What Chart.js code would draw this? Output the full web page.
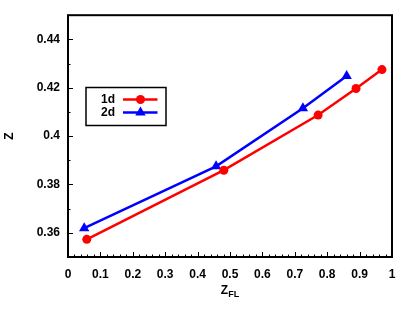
<!DOCTYPE html>
<html><head><meta charset="utf-8">
<script src="https://cdn.jsdelivr.net/npm/chart.js@4"></script>
<style>html,body{margin:0;padding:0;background:#fff}#wrap{width:415px;height:310px}</style>
</head><body><div id="wrap"><canvas id="c" width="415" height="310"></canvas></div>
<script>
const seriesNames = ['1d', '2d'];
const zfl1d = [0.058, 0.481, 0.772, 0.889, 0.969];
const z1d   = [0.3573, 0.3859, 0.4087, 0.4197, 0.4275];
const zfl2d = [0.050, 0.457, 0.725, 0.860];
const z2d   = [0.3619, 0.3875, 0.4115, 0.4249];
const xTicks = [0, 0.1, 0.2, 0.3, 0.4, 0.5, 0.6, 0.7, 0.8, 0.9, 1];
const xTickLabels = ['0','0.1','0.2','0.3','0.4','0.5','0.6','0.7','0.8','0.9','1'];
const yTicks = [0.36, 0.38, 0.40, 0.42, 0.44];
const yTickLabels = ['0.36','0.38','0.4','0.42','0.44'];
const xTitle = 'Z', xTitleSub = 'FL', yTitle = 'Z';

const FONT = '"Liberation Sans", Arial, sans-serif';

const frame = {
  id: 'frame',
  beforeDatasetsDraw(chart) {
    const {ctx, chartArea: a, scales: {x, y}} = chart;
    ctx.save();
    ctx.strokeStyle = '#000';
    ctx.lineWidth = 1;
    ctx.beginPath();
    for (let i = 0; i <= 50; i++) {
      const px = Math.round(x.getPixelForValue(i * 0.02)) + 0.5;
      const len = (i % 5 === 0) ? 5 : 2.5;
      ctx.moveTo(px, a.bottom); ctx.lineTo(px, a.bottom - len);
    }
    for (let i = 0; i <= 10; i++) {
      const py = Math.round(y.getPixelForValue(0.35 + i * 0.01)) + 0.5;
      const len = (i % 2 === 1) ? 5 : 2.5;
      ctx.moveTo(a.left, py); ctx.lineTo(a.left + len, py);
    }
    ctx.stroke();
    ctx.lineWidth = 2;
    ctx.strokeRect(a.left, a.top, a.right - a.left, a.bottom - a.top);
    // x title with subscript
    ctx.fillStyle = '#000';
    ctx.textBaseline = 'alphabetic';
    ctx.font = 'bold 12px ' + FONT;
    const w1 = ctx.measureText(xTitle).width;
    ctx.font = 'bold 9px ' + FONT;
    const w2 = ctx.measureText(xTitleSub).width;
    const cx = (a.left + a.right) / 2;
    const sx = cx - (w1 + w2) / 2;
    ctx.font = 'bold 12px ' + FONT;
    ctx.fillText(xTitle, sx, 293.5);
    ctx.font = 'bold 9px ' + FONT;
    ctx.fillText(xTitleSub, sx + w1, 296.5);
    ctx.restore();
  }
};

const legendBox = {
  id: 'legendBox',
  afterDatasetsDraw(chart) {
    const ctx = chart.ctx;
    ctx.save();
    ctx.strokeStyle = '#000';
    ctx.lineWidth = 1.5;
    ctx.strokeRect(86, 87.5, 80, 38);
    ctx.font = 'bold 12px ' + FONT;
    ctx.textAlign = 'right';
    ctx.textBaseline = 'middle';
    chart.data.datasets.forEach((ds, i) => {
      const yy = 99.5 + i * 13;
      ctx.fillStyle = '#000';
      ctx.fillText(ds.label, 115, yy + 0.5);
      ctx.strokeStyle = ds.borderColor;
      ctx.lineWidth = ds.borderWidth;
      ctx.beginPath(); ctx.moveTo(123, yy); ctx.lineTo(157.5, yy); ctx.stroke();
      ctx.fillStyle = ds.backgroundColor;
      Chart.helpers.drawPoint(ctx, {pointStyle: ds.pointStyle, radius: ds.pointRadius, borderWidth: 0, rotation: 0}, 140.5, yy);
    });
    ctx.restore();
  }
};

new Chart(document.getElementById('c'), {
  type: 'scatter',
  data: {
    datasets: [
      { label: seriesNames[0], data: zfl1d.map((v, i) => ({x: v, y: z1d[i]})),
        showLine: true, borderColor: '#ff0000', backgroundColor: '#ff0000', borderWidth: 2.5,
        pointStyle: 'circle', pointRadius: 4.5, pointBorderWidth: 0, pointHoverRadius: 4.5 },
      { label: seriesNames[1], data: zfl2d.map((v, i) => ({x: v, y: z2d[i]})),
        showLine: true, borderColor: '#0000ff', backgroundColor: '#0000ff', borderWidth: 2.5,
        pointStyle: 'triangle', pointRadius: 6, pointBorderWidth: 0, pointHoverRadius: 6 }
    ]
  },
  options: {
    responsive: false, animation: false, devicePixelRatio: 1,
    layout: { padding: { left: 0, top: 13, right: 23, bottom: 0 } },
    plugins: { legend: { display: false }, tooltip: { enabled: false } },
    scales: {
      x: {
        type: 'linear', min: 0, max: 1,
        grid: { display: false, drawTicks: false },
        border: { display: false },
        afterBuildTicks: s => { s.ticks = xTicks.map(v => ({value: v})); },
        afterFit: s => { s.height = 53; },
        ticks: { padding: 10, color: '#000', maxRotation: 0, autoSkip: false,
                 font: { family: FONT, size: 12, weight: 'bold' },
                 callback: (v, i) => xTickLabels[i] }
      },
      y: {
        type: 'linear', min: 0.35, max: 0.45,
        grid: { display: false, drawTicks: false },
        border: { display: false },
        afterBuildTicks: s => { s.ticks = yTicks.map(v => ({value: v})); },
        afterFit: s => { s.width = 68; },
        title: { display: true, text: yTitle, color: '#000', padding: { top: 2, bottom: 0 },
                 font: { family: FONT, size: 12, weight: 'bold' } },
        ticks: { padding: 8, color: '#000', autoSkip: false,
                 font: { family: FONT, size: 12, weight: 'bold' },
                 callback: (v, i) => yTickLabels[i] }
      }
    }
  },
  plugins: [frame, legendBox]
});
</script>
</body></html>
